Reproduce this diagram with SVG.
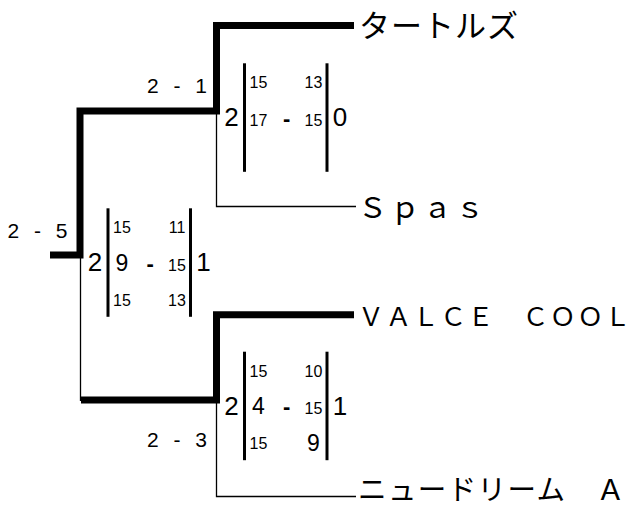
<svg xmlns="http://www.w3.org/2000/svg" width="631" height="508" viewBox="0 0 631 508">
<style>
.thick{stroke:#000;stroke-width:7;fill:none;stroke-linecap:butt;stroke-linejoin:miter}
.thin{stroke:#000;stroke-width:1.3;fill:none}
.brk{stroke:#000;stroke-width:3}
.n{font-family:"Liberation Sans",Arial,sans-serif;fill:#000;text-anchor:middle}
.big{font-size:26px}
.sm{font-size:16px}
.md{font-size:23px}
.dash{font-size:22px;font-weight:bold}
.lbl{font-family:"Liberation Sans",Arial,sans-serif;font-size:21px;letter-spacing:4.5px;fill:#000}
.team{font-family:"Noto Sans CJK JP","Noto Sans",sans-serif;fill:#000}
</style>
<rect width="631" height="508" fill="#fff"/>
<g id="connectors">
  <path class="thick" d="M354,25.5 H216.5 V111 H80 V255 H50"/>
  <path class="thick" d="M81,400 H216.5 V314.7 H354"/>
  <path class="thin" d="M80.5,258 V401"/>
  <path class="thin" d="M216.5,114 V206.5 H356"/>
  <path class="thin" d="M216.5,403 V496.5 H356"/>
</g>
<g id="team-turtles"><text class="team" x="359" y="36.5" font-size="31" letter-spacing="1">タートルズ</text></g>
<g id="team-spas"><text class="team" x="358" y="217.5" font-size="29" letter-spacing="3.4">Ｓｐａｓ</text></g>
<g id="team-valce"><text class="team" x="358" y="325.7" font-size="26" letter-spacing="1.4">ＶＡＬＣＥ　ＣＯＯＬ</text></g>
<g id="team-newdream"><text class="team" x="358" y="500" font-size="28.5" letter-spacing="1.4">ニュードリーム　Ａ</text></g>
<g id="label-m1"><text class="lbl" x="147" y="93">2 - 1</text></g>
<g id="label-final"><text class="lbl" x="7.5" y="238">2 - 5</text></g>
<g id="label-m2"><text class="lbl" x="147" y="447">2 - 3</text></g>
<g id="score-m1">
  <line class="brk" x1="244.5" y1="63.3" x2="244.5" y2="171.8"/>
  <line class="brk" x1="327" y1="63.3" x2="327" y2="171.8"/>
  <text class="n big" x="231.5" y="126.3">2</text>
  <text class="n big" x="340" y="126.3">0</text>
  <text class="n sm" x="258.5" y="88.3">15</text>
  <text class="n sm" x="313.5" y="88.3">13</text>
  <text class="n sm" x="258.5" y="125.8">17</text>
  <text class="n dash" x="286.75" y="125.8">-</text>
  <text class="n sm" x="313.5" y="125.8">15</text>
</g>
<g id="score-final">
  <line class="brk" x1="108" y1="208.3" x2="108" y2="316.8"/>
  <line class="brk" x1="190.5" y1="208.3" x2="190.5" y2="316.8"/>
  <text class="n big" x="95" y="271.3">2</text>
  <text class="n big" x="203.5" y="271.3">1</text>
  <text class="n sm" x="122" y="233.3">15</text>
  <text class="n sm" x="177" y="233.3">11</text>
  <text class="n md" x="122" y="270.8">9</text>
  <text class="n dash" x="150.25" y="270.8">-</text>
  <text class="n sm" x="177" y="270.8">15</text>
  <text class="n sm" x="122" y="305.8">15</text>
  <text class="n sm" x="177" y="305.8">13</text>
</g>
<g id="score-m2">
  <line class="brk" x1="244.5" y1="351.7" x2="244.5" y2="460.2"/>
  <line class="brk" x1="327" y1="351.7" x2="327" y2="460.2"/>
  <text class="n big" x="231.5" y="414.7">2</text>
  <text class="n big" x="340" y="414.7">1</text>
  <text class="n sm" x="258.5" y="376.7">15</text>
  <text class="n sm" x="313.5" y="376.7">10</text>
  <text class="n md" x="258.5" y="414.2">4</text>
  <text class="n dash" x="286.75" y="414.2">-</text>
  <text class="n sm" x="313.5" y="414.2">15</text>
  <text class="n sm" x="258.5" y="449.2">15</text>
  <text class="n md" x="313.5" y="451">9</text>
</g>
</svg>
